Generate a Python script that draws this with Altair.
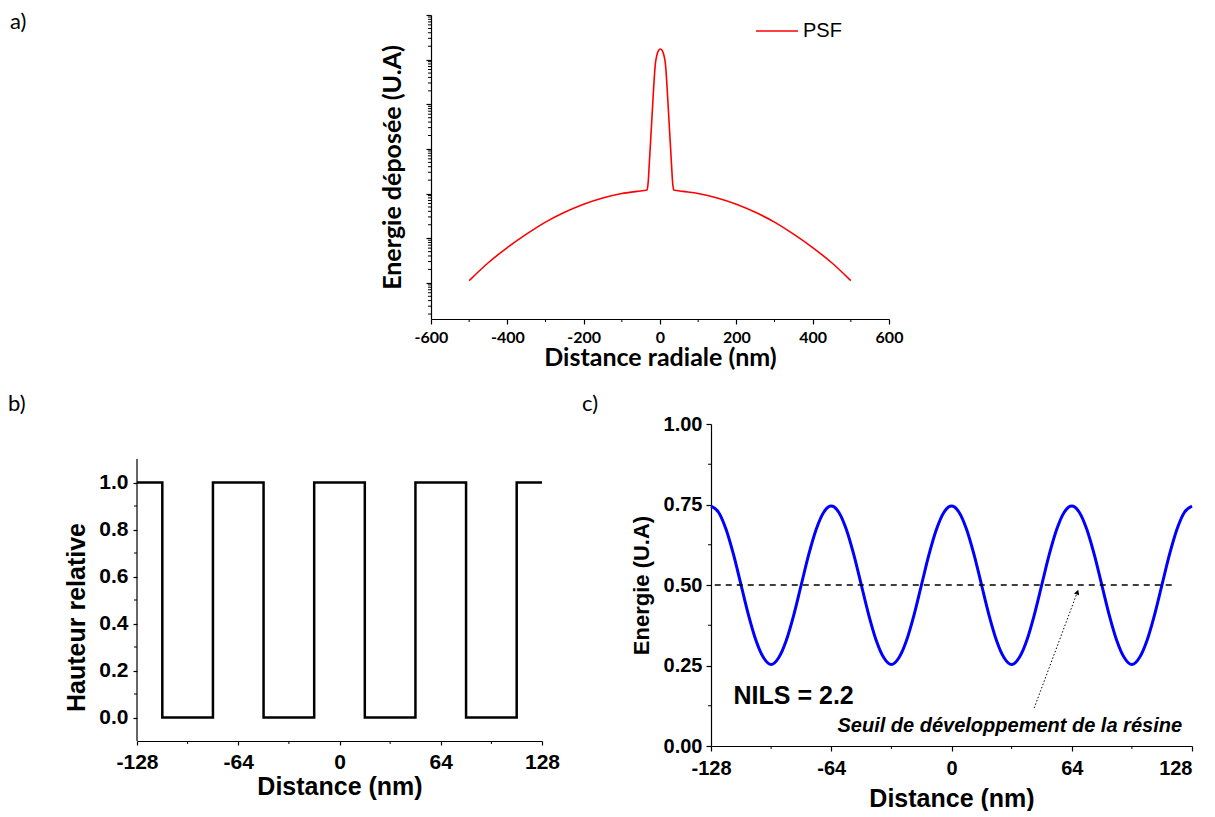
import altair as alt
import pandas as pd

# ---------------- Panel a : PSF (log scale, unlabeled decades) ----------------
psf_x = [-500, -450, -400, -350, -300, -250, -200, -150, -100, -60,
         -34, -31, -28, -23, -18, -12, -9, -4, 1, 6, 11, 14, 20, 25, 30, 33, 36,
         60, 100, 150, 200, 250, 300, 350, 400, 450, 500]
psf_log10 = [1.05, 1.45, 1.79, 2.09, 2.36, 2.58, 2.76, 2.90, 3.00, 3.05,
             3.08, 3.25, 3.68, 4.42, 5.17, 5.92, 6.07, 6.20, 6.24, 6.20, 6.07, 5.92, 5.17, 4.42, 3.68, 3.25, 3.08,
             3.05, 3.00, 2.90, 2.76, 2.58, 2.36, 2.09, 1.79, 1.45, 1.05]
a_xticks = [-600, -400, -200, 0, 200, 400, 600]
a_xminor = [-500, -300, -100, 100, 300, 500]
a_ydecades = [1e1, 1e2, 1e3, 1e4, 1e5, 1e6, 1e7]
a_yminor = [m * d for d in [1, 10, 100, 1000, 10000, 100000, 1000000] for m in range(2, 10)]

# ---------------- Panel b : square profile ----------------
b_x = [-128, -112, -80, -48, -16, 16, 48, 80, 112, 128]
b_y = [1, 0, 1, 0, 1, 0, 1, 0, 1, 1]
b_axis_span = [-0.1, 1.1]
b_xticks = [-128, -64, 0, 64, 128]
b_xminor = [-96, -32, 32, 96]
b_yticks = [0.0, 0.2, 0.4, 0.6, 0.8, 1.0]
b_yminor = [0.1, 0.3, 0.5, 0.7, 0.9]

# ---------------- Panel c : deposited energy ----------------
c_x = list(range(-128, 129, 4))
c_y = [0.745, 0.726, 0.673, 0.594, 0.500, 0.406, 0.327, 0.274, 0.253, 0.274, 0.327, 0.406, 0.500, 0.594, 0.673, 0.726,
       0.745, 0.726, 0.673, 0.594, 0.500, 0.406, 0.327, 0.274, 0.253, 0.274, 0.327, 0.406, 0.500, 0.594, 0.673, 0.726,
       0.745, 0.726, 0.673, 0.594, 0.500, 0.406, 0.327, 0.274, 0.253, 0.274, 0.327, 0.406, 0.500, 0.594, 0.673, 0.726,
       0.745, 0.726, 0.673, 0.594, 0.500, 0.406, 0.327, 0.274, 0.253, 0.274, 0.327, 0.406, 0.500, 0.594, 0.673, 0.726,
       0.745]
thr_x = [-126, 118]
thr_y = [0.5, 0.5]
arrow_x = [44, 67]
arrow_y = [0.118, 0.478]
c_xticks = [-128, -64, 0, 64, 128]
c_xminor = [-96, -32, 32, 96]
c_yticks = [0.0, 0.25, 0.5, 0.75, 1.0]
c_yminor = [0.125, 0.375, 0.625, 0.875]
nils_text = ["NILS = 2.2"]
nils_pos = [-116, 0.155]
seuil_text = ["Seuil de développement de la résine"]
seuil_pos = [31, 0.062]

# ---------------- sizes ----------------
WA, HA = 458, 304
WB, HB = 405, 317
WC, HC = 481, 322

ARIAL = "Liberation Sans"
CAL = "Lato"


def minor_y(vals, scale, tick=3):
    return alt.Chart(pd.DataFrame({"v": vals})).mark_rule(color="black", strokeWidth=1).encode(
        y=alt.Y("v:Q", scale=scale), x=alt.value(0), x2=alt.value(-tick))


def minor_x(vals, scale, h, tick=3):
    return alt.Chart(pd.DataFrame({"v": vals})).mark_rule(color="black", strokeWidth=1).encode(
        x=alt.X("v:Q", scale=scale), y=alt.value(h), y2=alt.value(h + tick))


def panel_title(txt, dx, offset):
    return alt.TitleParams(text=txt, anchor="start", frame="group", orient="top", baseline="top",
                           dx=dx, offset=offset, font=CAL, fontSize=22, fontWeight="normal", color="black")


# ---------------- Panel a ----------------
xA = alt.Scale(domain=[-600, 600], nice=False, zero=False)
yA = alt.Scale(type="log", domain=[1.55, 1e7], nice=False)
dfA = pd.DataFrame({"x": psf_x, "y": [10 ** v for v in psf_log10], "s": ["PSF"] * len(psf_x)})

lineA = alt.Chart(dfA).mark_line(strokeWidth=1.6, interpolate="monotone").encode(
    x=alt.X("x:Q", scale=xA, axis=alt.Axis(
        values=a_xticks, labelExpr="toString(datum.value)", labelFlush=False,
        tickSize=5, tickWidth=1.2, domainWidth=1.2,
        labelFont=CAL, labelFontSize=16, labelFontWeight="bold", labelPadding=5,
        title="Distance radiale (nm)", titleFont=CAL, titleFontSize=25, titleFontWeight="bold", titlePadding=0)),
    y=alt.Y("y:Q", scale=yA, axis=alt.Axis(
        values=a_ydecades, labels=False, tickSize=5, tickWidth=1.2, domainWidth=1.2,
        title="Energie déposée (U.A)", titleFont=CAL, titleFontSize=25, titleFontWeight="bold", titlePadding=20)),
    color=alt.Color("s:N", scale=alt.Scale(domain=["PSF"], range=["#ff0000"]), legend=alt.Legend(
        orient="none", legendX=618, legendY=-6, title=None, symbolType="stroke", symbolSize=1764,
        symbolStrokeWidth=1.6, labelFont=ARIAL, labelFontSize=20, labelOffset=4, padding=0)),
)

panelA = alt.layer(
    lineA, minor_y(a_yminor, yA), minor_x(a_xminor, xA, HA)
).properties(width=WA, height=HA)

spacerA = alt.Chart(pd.DataFrame({"t": ["a)"]})).mark_text(
    font=CAL, fontSize=22, align="left", baseline="top", color="black").encode(
    text="t:N", x=alt.value(-127), y=alt.value(-3)).properties(width=223, height=HA)

row1 = alt.concat(spacerA, panelA, columns=2, spacing=20)

# ---------------- Panel b ----------------
xB = alt.Scale(domain=[-128, 128], nice=False, zero=False)
yB = alt.Scale(domain=[-0.1, 1.249], nice=False, zero=False)
dfB = pd.DataFrame({"x": b_x, "y": b_y})
lineB = alt.Chart(dfB).mark_line(color="black", strokeWidth=2.5, interpolate="step-after").encode(
    x=alt.X("x:Q", scale=xB, axis=alt.Axis(
        values=b_xticks, labelExpr="toString(datum.value)", labelFlush=False,
        tickSize=4, tickWidth=1.2, domainWidth=1.2,
        labelFont=ARIAL, labelFontSize=21, labelFontWeight="bold", labelPadding=6,
        title="Distance (nm)", titleFont=ARIAL, titleFontSize=25, titleFontWeight="bold", titlePadding=2)),
    y=alt.Y("y:Q", scale=yB, axis=alt.Axis(
        values=b_yticks, format=".1f", tickSize=4, tickWidth=1.2, domain=False,
        labelFont=ARIAL, labelFontSize=21, labelFontWeight="bold", labelPadding=5,
        title="Hauteur relative", titleFont=ARIAL, titleFontSize=25, titleFontWeight="bold", titlePadding=9,
        titleY=193)),
)
axisB = alt.Chart(pd.DataFrame({"y": [b_axis_span[0]], "y2": [b_axis_span[1]]})).mark_rule(
    color="black", strokeWidth=1.2).encode(y=alt.Y("y:Q", scale=yB), y2="y2:Q", x=alt.value(0))
panelB = alt.layer(
    lineB, axisB, minor_y(b_yminor, yB, 3), minor_x(b_xminor, xB, HB, 3)
).properties(width=WB, height=HB, title=panel_title("b)", -129, 8))

# ---------------- Panel c ----------------
xC = alt.Scale(domain=[-128, 128], nice=False, zero=False)
yC = alt.Scale(domain=[0, 1], nice=False, zero=False)
dfC = pd.DataFrame({"x": c_x, "y": c_y})
lineC = alt.Chart(dfC).mark_line(color="#0000ff", strokeWidth=3, interpolate="monotone").encode(
    x=alt.X("x:Q", scale=xC, axis=alt.Axis(
        values=c_xticks, labelExpr="toString(datum.value)", labelFlush=False,
        tickSize=5, tickWidth=1.2, domainWidth=1.2,
        labelAlign=alt.ExprRef(expr="datum.value == 128 ? 'right' : 'center'"),
        labelFont=ARIAL, labelFontSize=20, labelFontWeight="bold", labelPadding=7,
        title="Distance (nm)", titleFont=ARIAL, titleFontSize=25, titleFontWeight="bold", titlePadding=8)),
    y=alt.Y("y:Q", scale=yC, axis=alt.Axis(
        values=c_yticks, format=".2f", tickSize=5, tickWidth=1.2, domainWidth=1.2,
        labelFont=ARIAL, labelFontSize=20, labelFontWeight="bold", labelPadding=4,
        title="Energie (U.A)", titleFont=ARIAL, titleFontSize=22, titleFontWeight="bold", titlePadding=10)),
)
thrC = alt.Chart(pd.DataFrame({"x": thr_x, "y": thr_y})).mark_line(
    color="black", strokeWidth=1.5, strokeDash=[6, 5]).encode(
    x=alt.X("x:Q", scale=xC), y=alt.Y("y:Q", scale=yC))
arrowC = alt.Chart(pd.DataFrame({"x": arrow_x, "y": arrow_y})).mark_line(
    color="black", strokeWidth=1, strokeDash=[1.5, 2]).encode(
    x=alt.X("x:Q", scale=xC), y=alt.Y("y:Q", scale=yC))
headC = alt.Chart(pd.DataFrame({"x": [arrow_x[1]], "y": [arrow_y[1]]})).mark_point(
    shape="triangle-up", filled=True, color="black", size=30, angle=20, opacity=1).encode(
    x=alt.X("x:Q", scale=xC), y=alt.Y("y:Q", scale=yC))
nilsC = alt.Chart(pd.DataFrame({"x": [nils_pos[0]], "y": [nils_pos[1]], "t": nils_text})).mark_text(
    font=ARIAL, fontSize=25, fontWeight="bold", align="left", baseline="middle", color="black").encode(
    x=alt.X("x:Q", scale=xC), y=alt.Y("y:Q", scale=yC), text="t:N")
seuilC = alt.Chart(pd.DataFrame({"x": [seuil_pos[0]], "y": [seuil_pos[1]], "t": seuil_text})).mark_text(
    font=ARIAL, fontSize=20, fontWeight="bold", fontStyle="italic", align="center", baseline="middle",
    color="black").encode(
    x=alt.X("x:Q", scale=xC), y=alt.Y("y:Q", scale=yC), text="t:N")

panelC = alt.layer(
    lineC, thrC, arrowC, headC, nilsC, seuilC, minor_y(c_yminor, yC, 3), minor_x(c_xminor, xC, HC, 3)
).properties(width=WC, height=HC, title=panel_title("c)", -129, -2))

row2 = alt.concat(panelB, panelC, columns=2, spacing=22)
chart = alt.concat(row1, row2, columns=1, spacing=23).properties(
    padding={"left": 0, "top": 1, "right": 0, "bottom": 0}
).configure_view(stroke=None).configure_axis(
    grid=False, domainColor="black", tickColor="black", labelColor="black", titleColor="black"
)

chart.save("out.html", embed_options={"renderer": "svg", "actions": False})
